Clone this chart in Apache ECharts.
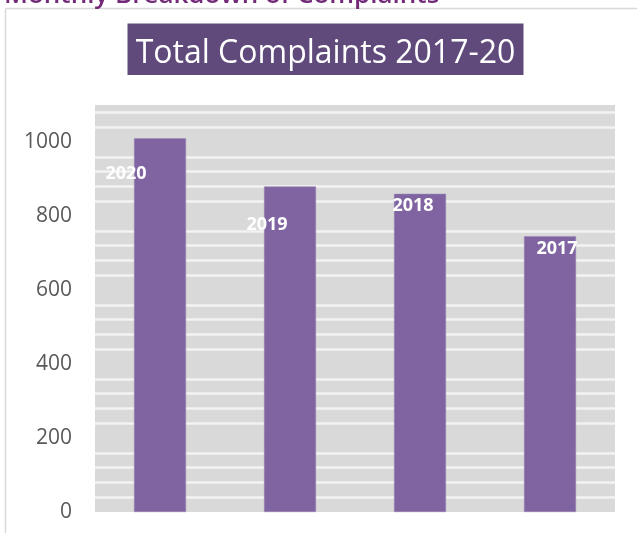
<!DOCTYPE html>
<html>
<head>
<meta charset="utf-8">
<script src="https://cdn.jsdelivr.net/npm/echarts@6/dist/echarts.min.js"></script>
<style>
  html, body { margin: 0; padding: 0; background: #fff; }
  #chart { width: 637px; height: 533px; }
</style>
</head>
<body>
<div id="chart"></div>
<script>
// chart values
let years = ["2020", "2019", "2018", "2017"]
let totals = [1010, 880, 860, 745]
let yTicks = [0, 200, 400, 600, 800, 1000]

// where each year label sits relative to the top of its bar (pixels)
let labelNudge = [[-34, 27], [-23, 29], [-7, 3], [7, 4]]

let FONT = "'Open Sans', 'Noto Sans', sans-serif"
let BAR = "#8064a2"

let chart = echarts.init(document.getElementById("chart"))

let barData = totals.map(function (v, i) {
    return {
        value: v,
        label: { offset: labelNudge[i] }
    }
})

chart.setOption({
    backgroundColor: "#ffffff",
    animation: false,
    graphic: [
        // frame of the chart box (top and left edges visible)
        { type: "line", shape: { x1: 5.5, y1: 8.5, x2: 637, y2: 8.5 }, style: { stroke: "#d9d9d9", lineWidth: 1.5 } },
        { type: "line", shape: { x1: 5.5, y1: 8.5, x2: 5.5, y2: 533 }, style: { stroke: "#d9d9d9", lineWidth: 1.5 } },
        // heading of the page above, cut off at the top
        {
            type: "text", left: 4, top: -17,
            style: { text: "Monthly Breakdown of Complaints", fill: "#732a78", font: "600 26px " + FONT }
        },
        // title box
        {
            type: "rect", shape: { x: 127.5, y: 23.5, width: 396, height: 51.5 },
            style: { fill: "#5f4a7b" }
        },
        {
            type: "text", x: 325.5, y: 54,
            style: { text: "Total Complaints 2017-20", fill: "#ffffff", font: "32px " + FONT, align: "center", verticalAlign: "middle" }
        }
    ],
    grid: {
        left: 95, right: 22, top: 105, bottom: 21,
        show: true, backgroundColor: "#d9d9d9", borderWidth: 0
    },
    xAxis: {
        type: "category",
        data: years,
        axisLine: { show: false },
        axisTick: { show: false },
        axisLabel: { show: false }
    },
    yAxis: {
        type: "value",
        min: 0,
        max: 1100,
        interval: 40,
        axisLine: { show: false },
        axisTick: { show: false },
        axisLabel: {
            color: "#595959",
            fontFamily: FONT,
            fontSize: 21,
            margin: 23,
            showMaxLabel: false,
            formatter: function (v) { return yTicks.indexOf(v) >= 0 ? String(v) : "" }
        },
        splitLine: {
            show: true,
            showMaxLine: false,
            lineStyle: {
                // every fifth line (the 200 steps) is not drawn in the original
                color: ["rgba(0,0,0,0)", "#f2f2f2", "#f2f2f2", "#f2f2f2", "#f2f2f2"],
                width: 2.5
            }
        }
    },
    series: [{
        type: "bar",
        data: barData,
        barWidth: "40%",
        itemStyle: { color: BAR, borderColor: "#9a86b6", borderWidth: 0.5 },
        z: 3,
        label: {
            show: true,
            position: "insideTop",
            formatter: function (p) { return p.name },
            color: "#ffffff",
            fontFamily: FONT,
            fontWeight: "bold",
            fontSize: 18,
            distance: 0
        }
    }]
})
</script>
</body>
</html>
